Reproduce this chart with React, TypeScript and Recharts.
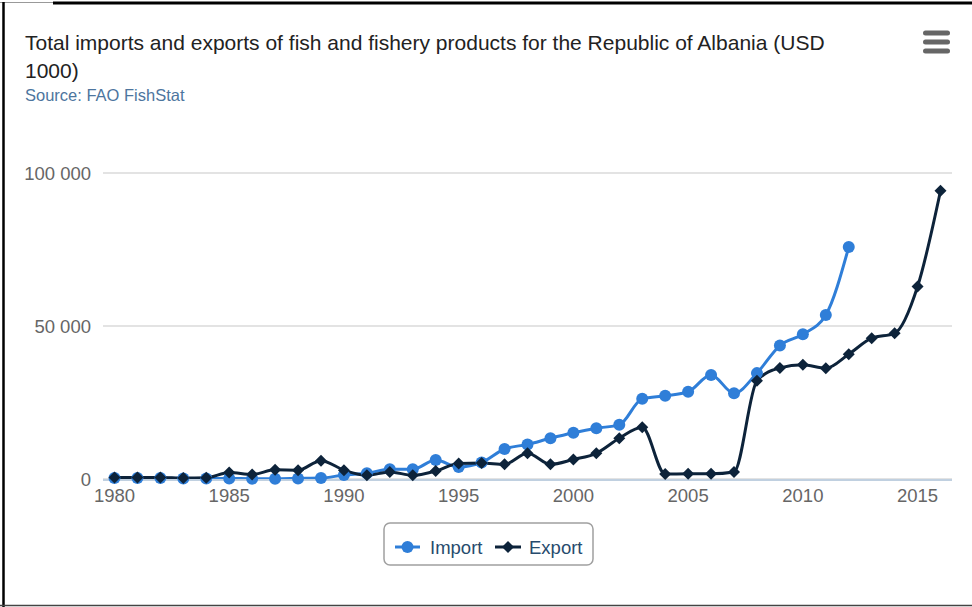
import React from 'react';
import { LineChart, Line, XAxis, YAxis, CartesianGrid } from 'recharts';

const FONT = "'Liberation Sans', Arial, sans-serif";

const years = [
  1980, 1981, 1982, 1983, 1984, 1985, 1986, 1987, 1988, 1989,
  1990, 1991, 1992, 1993, 1994, 1995, 1996, 1997, 1998, 1999,
  2000, 2001, 2002, 2003, 2004, 2005, 2006, 2007, 2008, 2009,
  2010, 2011, 2012, 2013, 2014, 2015, 2016,
];

const importValues: (number | null)[] = [
  300, 300, 300, 200, 200, 200, 100, 100, 200, 300,
  1300, 1900, 3200, 3200, 6200, 3900, 5400, 9800, 11300, 13300,
  15100, 16600, 17700, 26200, 27200, 28500, 34000, 28000, 34600, 43600,
  47300, 53600, 75800, null, null, null, null,
];

const exportValues: number[] = [
  500, 500, 500, 300, 400, 2100, 1500, 3000, 2900, 6000,
  2900, 1200, 2300, 1200, 2600, 5100, 5200, 4800, 8400, 4800,
  6400, 8400, 13300, 16900, 1600, 1700, 1700, 2300, 32100, 36300,
  37300, 36200, 40800, 46000, 47600, 62900, 94200,
];

const seriesNames = ['Import', 'Export'];
const yTicks = [0, 50000, 100000];
const xLabelTicks = [1980, 1985, 1990, 1995, 2000, 2005, 2010, 2015];
const xBoundaryTicks = [...years.map((y) => y - 0.5), years[years.length - 1] + 0.5];

const IMPORT_COLOR = '#2f7ed8';
const EXPORT_COLOR = '#0d233a';

const data = years.map((year, i) => ({
  year,
  Import: importValues[i],
  Export: exportValues[i],
}));

const fmt = (v: number) => String(v).replace(/\B(?=(\d{3})+(?!\d))/g, ' ');

const CircleDot = (props: any) => {
  const { cx, cy, value } = props;
  if (value == null || cx == null || cy == null) return null;
  return <circle cx={cx} cy={cy} r={6} fill={IMPORT_COLOR} />;
};

const DiamondDot = (props: any) => {
  const { cx, cy, value } = props;
  if (value == null || cx == null || cy == null) return null;
  const s = 6;
  return (
    <path
      d={`M${cx},${cy - s} L${cx + s},${cy} L${cx},${cy + s} L${cx - s},${cy} Z`}
      fill={EXPORT_COLOR}
    />
  );
};

export default function App() {
  return (
    <div style={{ position: 'fixed', left: 0, top: 0, width: 972, height: 607, background: '#fff', overflow: 'hidden' }}>
      <LineChart
        width={972}
        height={607}
        data={data}
        margin={{ top: 173, right: 20, bottom: 126, left: 0 }}
      >
        <CartesianGrid vertical={false} stroke="#c8c8c8" strokeWidth={1.2} xAxisId="ticks" />
        <XAxis
          xAxisId="ticks"
          dataKey="year"
          type="number"
          domain={[1979.5, 2016.5]}
          ticks={xBoundaryTicks}
          interval={0}
          tick={false}
          tickSize={10}
          height={1}
          axisLine={{ stroke: '#c0d0e0', strokeWidth: 2 }}
          tickLine={{ stroke: '#c0d0e0', strokeWidth: 1.5 }}
          allowDataOverflow
        />
        <XAxis
          xAxisId="labels"
          dataKey="year"
          type="number"
          domain={[1979.5, 2016.5]}
          ticks={xLabelTicks}
          interval={0}
          tickSize={0}
          tickMargin={10}
          height={1}
          axisLine={false}
          tickLine={false}
          tick={{ fill: '#666', fontSize: 18.5, fontFamily: FONT }}
          allowDataOverflow
        />
        <YAxis
          domain={[0, 100000]}
          ticks={yTicks}
          width={103}
          tickSize={0}
          tickMargin={12}
          axisLine={false}
          tickLine={false}
          tickFormatter={fmt}
          tick={{ fill: '#666', fontSize: 18.5, fontFamily: FONT }}
        />
        <Line
          xAxisId="ticks"
          type="monotone"
          dataKey="Import"
          name={seriesNames[0]}
          stroke={IMPORT_COLOR}
          strokeWidth={3}
          dot={<CircleDot />}
          activeDot={false}
          connectNulls={false}
          isAnimationActive={false}
        />
        <Line
          xAxisId="ticks"
          type="monotone"
          dataKey="Export"
          name={seriesNames[1]}
          stroke={EXPORT_COLOR}
          strokeWidth={3}
          dot={<DiamondDot />}
          activeDot={false}
          isAnimationActive={false}
        />
      </LineChart>
      <svg
        width={972}
        height={607}
        style={{ position: 'absolute', left: 0, top: 0, pointerEvents: 'none' }}
      >
        <line x1={0} y1={2.5} x2={53} y2={2.5} stroke="#999" strokeWidth={1} />
        <line x1={53} y1={3} x2={972} y2={3} stroke="#000" strokeWidth={3} />
        <line x1={3.5} y1={2} x2={3.5} y2={607} stroke="#000" strokeWidth={2.5} />
        <line x1={0} y1={605.5} x2={972} y2={605.5} stroke="#444" strokeWidth={1.5} />
        <text x={25} y={50} fontFamily={FONT} fontSize={21} fill="#222">
          Total imports and exports of fish and fishery products for the Republic of Albania (USD
        </text>
        <text x={25} y={78} fontFamily={FONT} fontSize={21} fill="#222">1000)</text>
        <text x={25} y={101} fontFamily={FONT} fontSize={16.5} fill="#4d759e">Source: FAO FishStat</text>
        <g stroke="#666" strokeWidth={5} strokeLinecap="round">
          <line x1={925.5} y1={33} x2={947.5} y2={33} />
          <line x1={925.5} y1={42} x2={947.5} y2={42} />
          <line x1={925.5} y1={51} x2={947.5} y2={51} />
        </g>
        <g transform="translate(383,522)">
          <rect x={1} y={1} width={209} height={42} rx={6} ry={6} fill="#fff" stroke="#a0a0a0" strokeWidth={1.5} />
          <line x1={12} y1={25} x2={37} y2={25} stroke={IMPORT_COLOR} strokeWidth={3} />
          <circle cx={24.5} cy={25} r={6} fill={IMPORT_COLOR} />
          <text x={47} y={32} fontFamily={FONT} fontSize={18.5} fill="#274b6d">{seriesNames[0]}</text>
          <line x1={112} y1={25} x2={138} y2={25} stroke={EXPORT_COLOR} strokeWidth={3} />
          <path d="M125,19 L131,25 L125,31 L119,25 Z" fill={EXPORT_COLOR} />
          <text x={146} y={32} fontFamily={FONT} fontSize={18.5} fill="#274b6d">{seriesNames[1]}</text>
        </g>
      </svg>
    </div>
  );
}
